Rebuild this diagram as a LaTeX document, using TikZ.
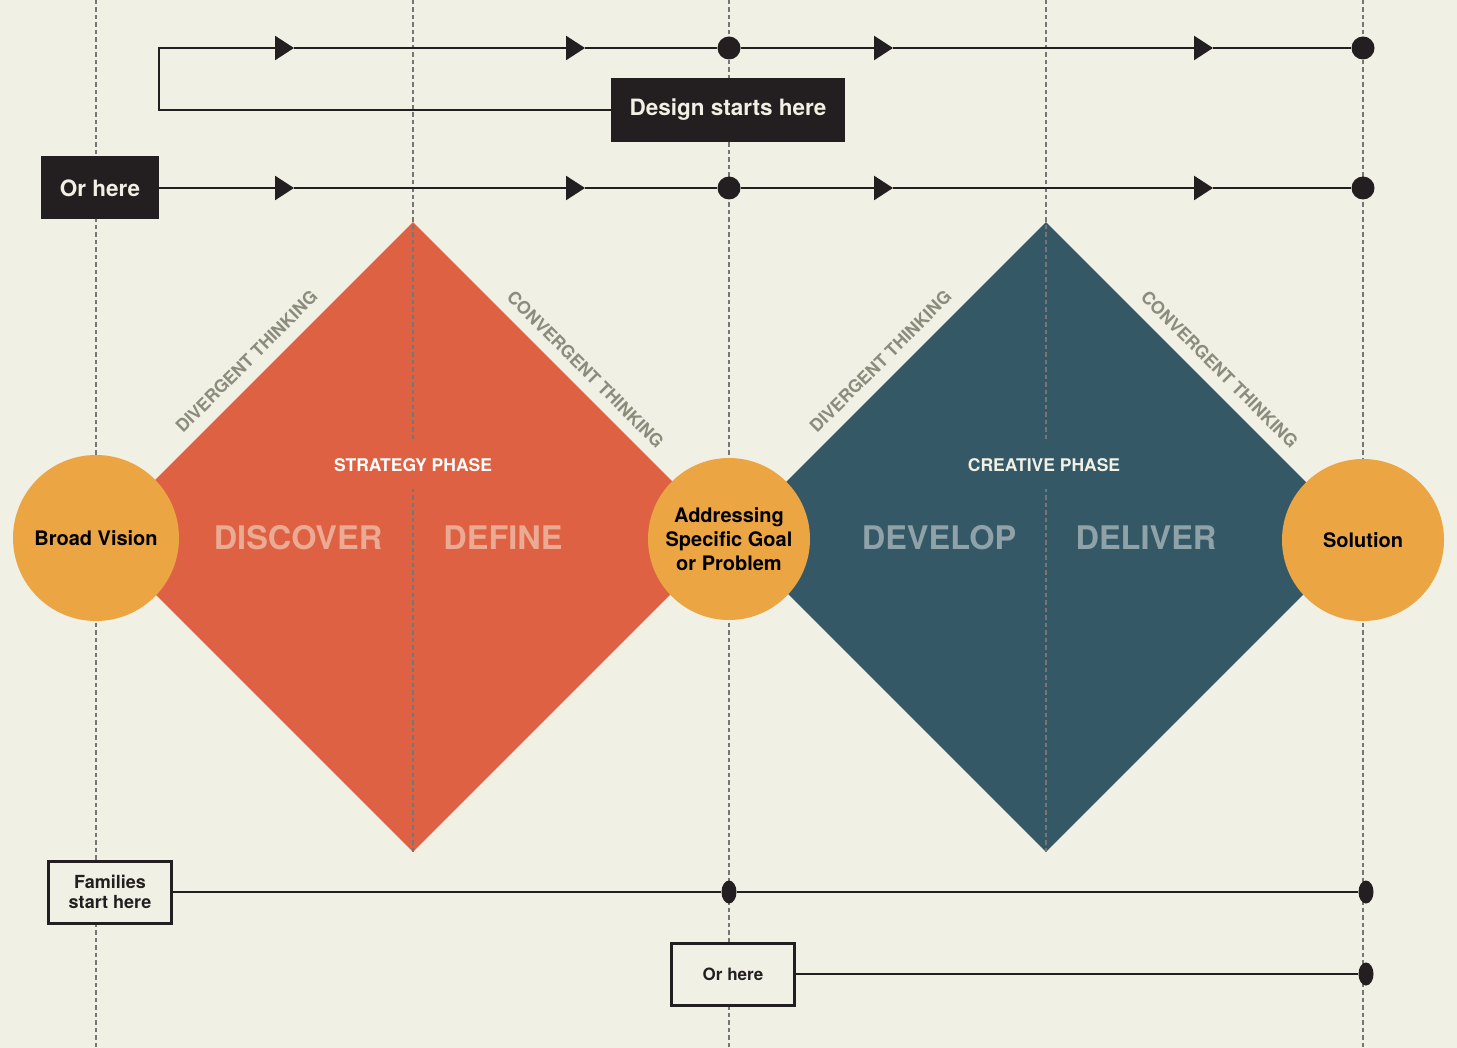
\documentclass[tikz,border=0pt]{standalone}
\usepackage{fontspec}
\setmainfont{TeX Gyre Heros}
\usetikzlibrary{positioning, arrows.meta, shapes.geometric, calc}
\definecolor{bgc}{HTML}{F1F0E5}
\definecolor{redc}{HTML}{DD6142}
\definecolor{bluec}{HTML}{355867}
\definecolor{orangec}{HTML}{EBA543}
\definecolor{darkc}{HTML}{231F20}
\definecolor{guidec}{HTML}{767676}
\definecolor{thinkc}{HTML}{8C8B7C}
\definecolor{salmonc}{HTML}{EAAA93}
\definecolor{slatec}{HTML}{8FA2A8}

\begin{document}
\begin{tikzpicture}[x=1pt,y=-1pt,diamondbox/.style={diamond,aspect=1,inner sep=0,minimum width=630pt,minimum height=630pt},stagecircle/.style={circle,fill=orangec,inner sep=0,align=center,text=black,font=\fontsize{20}{24}\selectfont\bfseries},darkbox/.style={fill=darkc,text=bgc,inner sep=0,font=\fontsize{22.5}{26}\selectfont\bfseries},linebox/.style={draw=darkc,line width=3pt,fill=bgc,text=darkc,inner sep=0,align=center,minimum width=123pt,minimum height=62pt,font=\fontsize{18}{20}\selectfont\bfseries},guideline/.style={draw=guidec,line width=2.7pt,dash pattern=on 4.5pt off 3pt},flowline/.style={draw=darkc,line width=2.5pt},flowarrow/.style={flowline,-{Triangle[length=19pt,width=24pt]}},flowdot/.style={circle,fill=darkc,inner sep=0,minimum size=23pt},thinklabel/.style={text=thinkc,inner sep=0,font=\fontsize{17.5}{17}\selectfont\bfseries},bigword/.style={inner sep=0,font=\fontsize{32.5}{34}\selectfont\bfseries},phaselabel/.style={inner sep=0,minimum height=48pt,font=\fontsize{17.5}{18}\selectfont\bfseries}]
\useasboundingbox (0,0) rectangle (1457,1048);
\fill[bgc] (0,0) rectangle (1457,1048);
% double diamond
\node[diamondbox,fill=redc] (strategy) at (413,537) {};
\node[diamondbox,fill=bluec] (creative) at (1046,537) {};
% guides
\foreach \x in {96,729,1363} \draw[guideline] (\x,0) -- (\x,1048);
\foreach \x in {413,1046} \draw[guideline] (\x,0) -- (\x,852);
\node[phaselabel,fill=redc,text=white] (strategylabel) at ($(strategy.center)+(0,-72)$) {STRATEGY PHASE};
\node[phaselabel,fill=bluec,text=bgc] (creativelabel) at ($(creative.center)+(-2,-72)$) {CREATIVE PHASE};
\node[bigword,text=salmonc] (discover) at ($(strategy.center)+(-115,1)$) {DISCOVER};
\node[bigword,text=salmonc] (define) at ($(strategy.center)+(90,1)$) {DEFINE};
\node[bigword,text=slatec] (develop) at ($(creative.center)+(-107,1)$) {DEVELOP};
\node[bigword,text=slatec] (deliver) at ($(creative.center)+(100,1)$) {DELIVER};
\node[thinklabel,rotate=45] (div1) at ($(strategy.west)!0.5!(strategy.north)+(-9,-18)$) {DIVERGENT THINKING};
\node[thinklabel,rotate=-45] (conv1) at ($(strategy.north)!0.5!(strategy.east)+(15,-10)$) {CONVERGENT THINKING};
\node[thinklabel,rotate=45] (div2) at ($(creative.west)!0.5!(creative.north)+(-8,-18)$) {DIVERGENT THINKING};
\node[thinklabel,rotate=-45] (conv2) at ($(creative.north)!0.5!(creative.east)+(16,-10)$) {CONVERGENT THINKING};
% stages
\node[stagecircle,minimum size=166pt] (broad) at (96,538) {Broad Vision};
\node[stagecircle,minimum size=162pt] (goal) at (729,539) {Addressing\\Specific Goal\\or Problem};
\node[stagecircle,minimum size=162pt] (solution) at (1363,540) {Solution};
% starting points
\node[darkbox,minimum width=234pt,minimum height=64pt] (design) at (728,110) {Design starts here};
\node[darkbox,minimum width=118pt,minimum height=63pt] (orhere) at (100,188) {Or here};
\node[linebox] (families) at (110,892) {Families\\start here};
\node[linebox,font=\fontsize{17}{20}\selectfont\bfseries] (orheretwo) at (733,974) {Or here};
\node[flowdot] (da) at (729,48) {};\node[flowdot] (db) at (1363,48) {};
\node[flowdot] (dc) at (729,188) {};\node[flowdot] (dd) at (1363,188) {};
\node[flowdot,ellipse,minimum width=15pt,minimum height=23pt] (de) at (729,892) {};\node[flowdot,ellipse,minimum width=15pt,minimum height=23pt] (df) at (1366,892) {};
\node[flowdot,ellipse,minimum width=15pt,minimum height=23pt] (dg) at (1366,974) {};
\coordinate (corner) at (159,48);
\coordinate (a1) at (294,48);\coordinate (a2) at (585,48);\coordinate (a3) at (893,48);\coordinate (a4) at (1213,48);
\coordinate (b1) at (294,188);\coordinate (b2) at (585,188);\coordinate (b3) at (893,188);\coordinate (b4) at (1213,188);
% flows
\draw[flowarrow] (design.west) -| (corner) -- (a1);\draw[flowarrow] (a1) -- (a2);\draw[flowline] (a2) -- (da);\draw[flowarrow] (da) -- (a3);\draw[flowarrow] (a3) -- (a4);\draw[flowline] (a4) -- (db);
\draw[flowarrow] (orhere.east) -- (b1);\draw[flowarrow] (b1) -- (b2);\draw[flowline] (b2) -- (dc);\draw[flowarrow] (dc) -- (b3);\draw[flowarrow] (b3) -- (b4);\draw[flowline] (b4) -- (dd);
\draw[flowline] (families.east) -- (de) -- (df);
\draw[flowline] (orheretwo.east) -- (dg);
\end{tikzpicture}
\end{document}
